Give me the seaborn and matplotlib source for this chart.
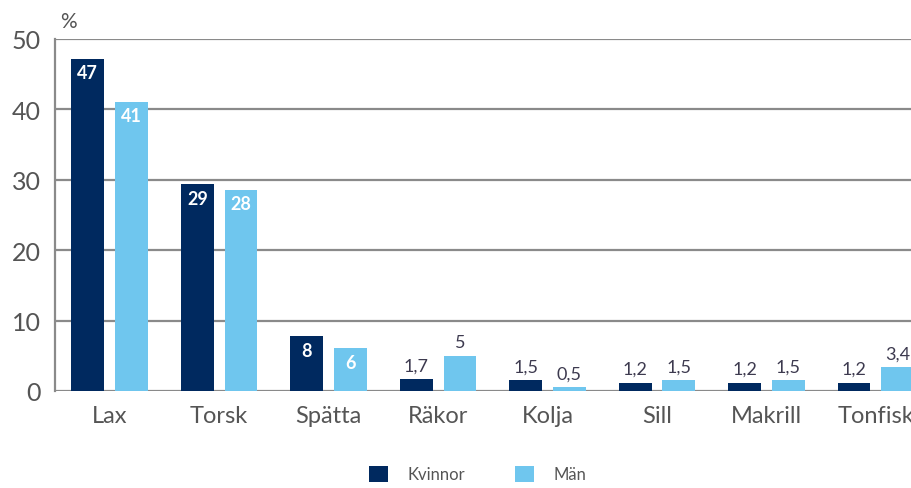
import matplotlib
matplotlib.use("Agg")
import matplotlib.pyplot as plt
import seaborn as sns
import pandas as pd
from matplotlib.patches import Patch

categories = ["Lax", "Torsk", "Spätta", "Räkor", "Kolja", "Sill", "Makrill", "Tonfisk"]
kvinnor = [47.2, 29.4, 7.8, 1.7, 1.5, 1.2, 1.2, 1.2]
man = [41.1, 28.6, 6.1, 5.0, 0.5, 1.5, 1.5, 3.4]
kvinnor_labels = ["47", "29", "8", "1,7", "1,5", "1,2", "1,2", "1,2"]
man_labels = ["41", "28", "6", "5", "0,5", "1,5", "1,5", "3,4"]
series = ["Kvinnor", "Män"]
yticks = [0, 10, 20, 30, 40, 50]

dark = "#00295f"
light = "#6fc6ee"
text_col = "#555555"
grid_col = "#8a8a8a"

sns.set_theme(style="white")
plt.rcParams["font.family"] = ["Lato", "DejaVu Sans"]

df = pd.DataFrame({
    "kategori": categories * 2,
    "serie": [series[0]] * len(categories) + [series[1]] * len(categories),
    "varde": kvinnor + man,
})

fig = plt.figure(figsize=(9.12, 4.89), dpi=100)
ax = fig.add_axes([55 / 912, 1 - 392 / 489, 1 - 55 / 912, (392 - 40) / 489])

sns.barplot(data=df, x="kategori", y="varde", hue="serie", order=categories,
            hue_order=series, palette=[dark, light], width=0.8, gap=0.25,
            saturation=1, ax=ax, legend=False, linewidth=0, errorbar=None)

ax.set_ylim(0, 50)
ax.set_xlim(-0.5, 7.33)
ax.set_yticks(yticks)
ax.set_yticklabels([str(t) for t in yticks], color=text_col, fontsize=18)
ax.tick_params(axis="y", length=0, pad=10)
ax.tick_params(axis="x", length=0, pad=10, labelsize=17, labelcolor=text_col)
ax.set_xlabel("")
ax.set_ylabel("")
for t in yticks:
    ax.axhline(t, color=grid_col, lw=1.6, zorder=0)
for s in ["top", "right", "bottom"]:
    ax.spines[s].set_visible(False)
ax.spines["left"].set_color(grid_col)
ax.spines["left"].set_linewidth(1.6)

# value labels
for container, labels in zip(ax.containers, [kvinnor_labels, man_labels]):
    for bar, lab in zip(container, labels):
        h = bar.get_height()
        cx = bar.get_x() + bar.get_width() / 2
        if h > 5.5:
            ax.text(cx, h - 0.8, lab, ha="center", va="top", color="white",
                    fontsize=13, fontweight="bold")
        else:
            ax.text(cx, h + 0.8, lab, ha="center", va="bottom", color="#3d3a4f",
                    fontsize=13)

fig.text(68 / 912, 1 - 22 / 489, "%", fontsize=15, color=text_col, ha="center", va="center")

handles = [Patch(facecolor=dark, edgecolor="none"), Patch(facecolor=light, edgecolor="none")]
fig.legend(handles, series, loc="center", bbox_to_anchor=(478 / 912, 1 - 475 / 489),
           ncol=2, frameon=False, fontsize=12, labelcolor=text_col,
           handlelength=1.1, handleheight=1.1, columnspacing=3.0, handletextpad=1.2)

fig.savefig("out.png", dpi=100)
